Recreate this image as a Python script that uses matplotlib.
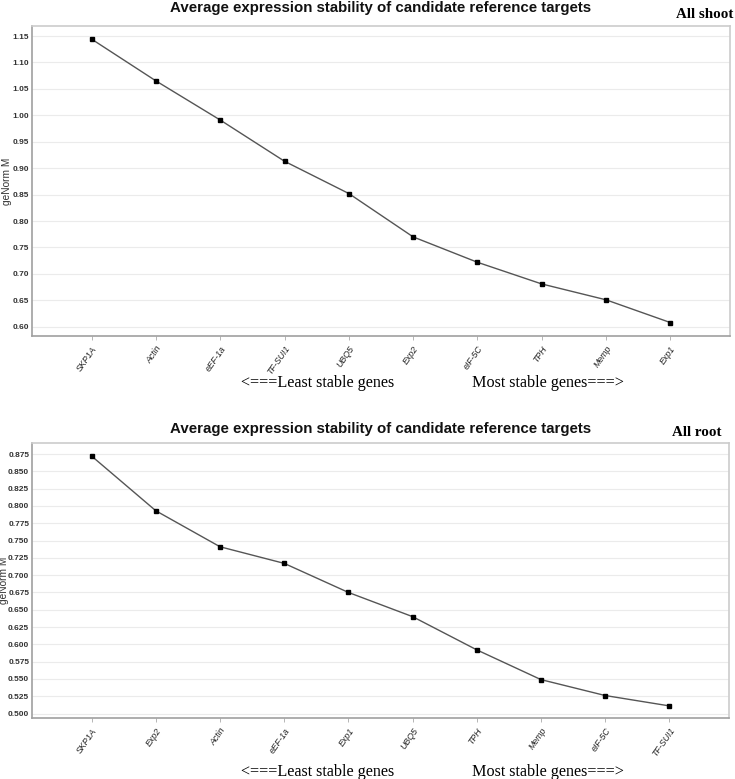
import matplotlib
matplotlib.use("Agg")
import matplotlib.pyplot as plt
from matplotlib.ticker import MultipleLocator, FormatStrFormatter

# ---- data ----
shoot_genes = ["SKP1A", "Actin", "eEF-1a", "TF-SUI1", "UBQ5", "Exp2", "eIF-5C", "TPH", "Memp", "Exp1"]
shoot_m = [1.144, 1.065, 0.991, 0.913, 0.852, 0.770, 0.722, 0.681, 0.651, 0.608]

root_genes = ["SKP1A", "Exp2", "Actin", "eEF-1a", "Exp1", "UBQ5", "TPH", "Memp", "eIF-5C", "TF-SUI1"]
root_m = [0.872, 0.793, 0.741, 0.717, 0.675, 0.640, 0.592, 0.549, 0.526, 0.511]

title = "Average expression stability of candidate reference targets"
ylabel = "geNorm M"
left_note = "<===Least stable genes"
right_note = "Most stable genes===>"

W, H = 735, 779
fig = plt.figure(figsize=(W / 100, H / 100), dpi=100)


def fx(px):
    return px / W


def fy(py):
    return 1 - py / H


def make_panel(rect, genes, vals, ylim, step, fmt, tag, title_y, tag_x, tag_y,
               note_y, ylab_x):
    ax = fig.add_axes(rect)
    x = list(range(len(genes)))
    ax.plot(x, vals, color="#555555", lw=1.0, marker="s", ms=2.3,
            mfc="black", mec="black", zorder=3)
    ax.set_xlim(-0.93, len(genes) - 1 + 0.93)
    ax.set_ylim(*ylim)
    ax.yaxis.set_major_locator(MultipleLocator(step))
    ax.yaxis.set_major_formatter(FormatStrFormatter(fmt))
    ax.set_xticks(x)
    ax.set_xticklabels(genes, rotation=55, ha="right", rotation_mode="anchor",
                       fontsize=6.3, style="italic", family="Liberation Sans",
                       color="#222222")
    for lab in ax.get_yticklabels():
        lab.set_fontsize(6.0)
        lab.set_family("Liberation Sans")
        lab.set_fontweight("bold")
        lab.set_color("#333333")
    ax.tick_params(axis="y", length=0, pad=2)
    ax.tick_params(axis="x", length=3, width=0.6, color="#aaaaaa", pad=3)
    ax.grid(axis="y", color="#ebebeb", lw=0.8)
    ax.set_axisbelow(True)
    for s in ax.spines.values():
        s.set_color("#cccccc")
        s.set_linewidth(1.2)
    ax.spines["left"].set_color("#a0a0a0")
    ax.spines["bottom"].set_color("#a0a0a0")
    # y-axis label
    cy = rect[1] + rect[3] / 2
    fig.text(fx(ylab_x), cy, ylabel, rotation=90, ha="center", va="center",
             fontsize=7.3, family="Liberation Sans", color="#333333")
    cx = rect[0] + rect[2] / 2
    fig.text(cx, fy(title_y), title, ha="center", va="center",
             fontsize=10.8, fontweight="bold", family="Liberation Sans",
             color="#111111")
    fig.text(fx(tag_x), fy(tag_y), tag, ha="right", va="center",
             fontsize=10.8, fontweight="bold", family="Liberation Serif")
    fig.text(fx(241), fy(note_y), left_note, ha="left", va="center",
             fontsize=11.6, family="Liberation Serif")
    fig.text(fx(472), fy(note_y), right_note, ha="left", va="center",
             fontsize=11.6, family="Liberation Serif")
    return ax


top_rect = [fx(32), fy(336), fx(730) - fx(32), fy(26) - fy(336)]
bot_rect = [fx(32), fy(718), fx(729) - fx(32), fy(443) - fy(718)]

make_panel(top_rect, shoot_genes, shoot_m, (0.5825, 1.169), 0.05, "%.2f",
           "All shoot", 8, 733, 15, 383, 7.5)
make_panel(bot_rect, root_genes, root_m, (0.4935, 0.891), 0.025, "%.3f",
           "All root", 429, 722, 433, 772, 4.5)

fig.savefig("out.png", dpi=100)
